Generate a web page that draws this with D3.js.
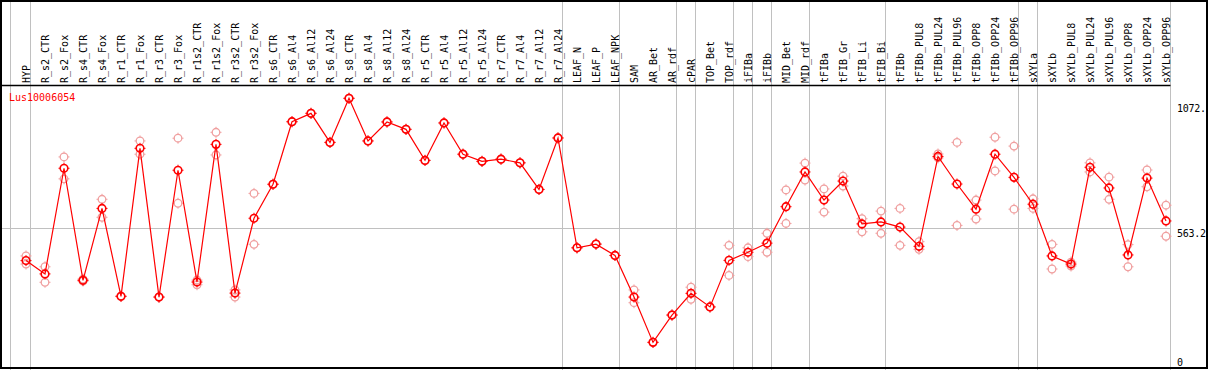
<!DOCTYPE html>
<html>
<head>
<meta charset="utf-8">
<script src="https://cdn.jsdelivr.net/npm/d3@7"></script>
<style>
  body { margin: 0; background: #fff; }
  svg { display: block; }
  text { font-family: 'DejaVu Sans Mono', monospace; font-size: 10px; }
</style>
</head>
<body>
<svg id="plot" width="1209" height="370"></svg>
<script>
// sample names, one column each
const samples = [
  'HYP', 'R_s2_CTR', 'R_s2_Fox', 'R_s4_CTR', 'R_s4_Fox', 'R_r1_CTR', 'R_r1_Fox',
  'R_r3_CTR', 'R_r3_Fox', 'R_r1s2_CTR', 'R_r1s2_Fox', 'R_r3s2_CTR', 'R_r3s2_Fox',
  'R_s6_CTR', 'R_s6_Al4', 'R_s6_Al12', 'R_s6_Al24', 'R_s8_CTR', 'R_s8_Al4', 'R_s8_Al12',
  'R_s8_Al24', 'R_r5_CTR', 'R_r5_Al4', 'R_r5_Al12', 'R_r5_Al24', 'R_r7_CTR', 'R_r7_Al4',
  'R_r7_Al12', 'R_r7_Al24', 'LEAF_N', 'LEAF_P', 'LEAF_NPK', 'SAM', 'AR_Bet', 'AR_rdf',
  'cPAR', 'TOP_Bet', 'TOP_rdf', 'iFIBa', 'iFIBb', 'MID_Bet', 'MID_rdf', 'tFIBa',
  'tFIB_Gr', 'tFIB_Li', 'tFIB_Bi', 'tFIBb', 'tFIBb_PUL8', 'tFIBb_PUL24', 'tFIBb_PUL96',
  'tFIBb_OPP8', 'tFIBb_OPP24', 'tFIBb_OPP96', 'sXYLa', 'sXYLb', 'sXYLb_PUL8',
  'sXYLb_PUL24', 'sXYLb_PUL96', 'sXYLb_OPP8', 'sXYLb_OPP24', 'sXYLb_OPP96'
]

// mean expression per sample
const means = [
  432, 378, 807, 352, 644, 287, 888, 284, 799, 345, 904, 300, 604,
  742, 996, 1030, 912, 1091, 918, 995, 965, 839, 991, 864, 835, 844, 829, 721, 930,
  484, 499, 453, 284, 100, 211, 299, 244, 433, 466, 503, 651, 792, 678,
  755, 581, 589, 568, 490, 855, 743, 641, 864, 770, 661, 451, 418,
  811, 727, 455, 767, 593
]

// replicate values (two per sample)
const repA = [
  451, 407, 853, 357, 681, 288, 918, 284, 929, 353, 953, 313, 705,
  742, 996, 1030, 912, 1091, 918, 995, 965, 839, 991, 864, 835, 844, 829, 721, 930,
  484, 499, 453, 313, 100, 211, 324, 244, 494, 484, 543, 719, 828, 723,
  775, 602, 633, 644, 509, 865, 912, 678, 933, 897, 683, 498, 426,
  829, 771, 497, 800, 657
]
const repB = [
  418, 344, 764, 349, 608, 286, 864, 284, 665, 334, 861, 284, 498,
  742, 996, 1030, 912, 1091, 918, 995, 965, 839, 991, 864, 835, 844, 829, 721, 930,
  484, 499, 453, 261, 100, 211, 275, 244, 372, 448, 466, 583, 759, 629,
  735, 549, 543, 494, 478, 849, 575, 601, 796, 641, 644, 398, 410,
  792, 681, 407, 732, 531
]

// the last sample of each group, a divider follows it
const groupEnds = [
  'HYP', 'R_r7_Al24', 'LEAF_NPK', 'AR_rdf', 'cPAR', 'TOP_rdf', 'iFIBa', 'iFIBb',
  'MID_rdf', 'tFIB_Bi', 'tFIBb_OPP96', 'sXYLa', 'sXYLb_OPP96'
]

const yTicks = [0, 563.2, 1072]
const yTickLabels = ['0', '563.2', '1072.']
const geneName = 'Lus10006054'

const svg = d3.select('#plot')
const width = +svg.attr('width')
const height = +svg.attr('height')
const headerY = 85.5
const plotRight = 1170.5

// scales
const xScale = d3.scalePoint()
  .domain(samples)
  .range([26, 1166])
const yScale = d3.scaleLinear()
  .domain([0, 1072])
  .range([367, 103])

// gray guide lines
const grid = svg.append('g')
  .attr('stroke', '#c0c0c0')
  .attr('stroke-width', 1)
grid.append('line')
  .attr('x1', xScale(samples[0]) - 15.5)
  .attr('x2', xScale(samples[0]) - 15.5)
  .attr('y1', 0)
  .attr('y2', height)
grid.selectAll('line.div')
  .data(groupEnds)
  .enter()
  .append('line')
  .attr('class', 'div')
  .attr('x1', d => xScale(d) + 4.5)
  .attr('x2', d => xScale(d) + 4.5)
  .attr('y1', 0)
  .attr('y2', height)
grid.append('line')
  .attr('x1', 1)
  .attr('x2', plotRight)
  .attr('y1', Math.round(yScale(yTicks[1])) + 0.5)
  .attr('y2', Math.round(yScale(yTicks[1])) + 0.5)

// header separator and frame
svg.append('line')
  .attr('x1', 1)
  .attr('x2', plotRight)
  .attr('y1', headerY)
  .attr('y2', headerY)
  .attr('stroke', '#000')
  .attr('stroke-width', 1.5)
svg.append('rect')
  .attr('x', 1)
  .attr('y', 1)
  .attr('width', width - 3)
  .attr('height', height - 3)
  .attr('fill', 'none')
  .attr('stroke', '#000')
  .attr('stroke-width', 2)

// rotated sample labels
svg.append('g')
  .selectAll('text')
  .data(samples)
  .enter()
  .append('text')
  .attr('transform', d => `translate(${ xScale(d) + 3.5 }, 83) rotate(-90)`)
  .attr('fill', '#000')
  .text(d => d)

// gene name
svg.append('text')
  .attr('x', 9)
  .attr('y', 101)
  .attr('fill', '#ff0000')
  .text(geneName)

// right value labels
svg.append('g')
  .selectAll('text')
  .data(yTicks)
  .enter()
  .append('text')
  .attr('x', 1177)
  .attr('y', (d, i) => i === 0 ? yScale(d) - 1 : yScale(d) + 9)
  .attr('fill', '#000')
  .attr('letter-spacing', -0.3)
  .text((d, i) => yTickLabels[i])

// marker: ring with small ticks like the bitmap original
const marker = (g, color, sw) => {
  g.append('circle')
    .attr('r', 3.8)
    .attr('fill', 'none')
    .attr('stroke', color)
    .attr('stroke-width', sw)
  g.append('path')
    .attr('d', 'M0,-5.5V-3.5M0,3.5V5.5M-5.5,0H-3.5M3.5,0H5.5')
    .attr('stroke', color)
    .attr('stroke-width', 1)
}

// replicates
const reps = samples.flatMap((s, i) => [{ s, v: repA[i] }, { s, v: repB[i] }])
svg.append('g')
  .selectAll('g')
  .data(reps)
  .enter()
  .append('g')
  .attr('transform', d => `translate(${ xScale(d.s) }, ${ yScale(d.v) })`)
  .each(function () { marker(d3.select(this), '#f0a0a0', 1.3) })

// mean line
const line = d3.line()
  .x((d, i) => xScale(samples[i]))
  .y(d => yScale(d))
svg.append('path')
  .datum(means)
  .attr('d', line)
  .attr('fill', 'none')
  .attr('stroke', '#ff0000')
  .attr('stroke-width', 1.2)

// mean markers
svg.append('g')
  .selectAll('g')
  .data(means)
  .enter()
  .append('g')
  .attr('transform', (d, i) => `translate(${ xScale(samples[i]) }, ${ yScale(d) })`)
  .each(function () { marker(d3.select(this), '#ff0000', 1.6) })
</script>
</body>
</html>
